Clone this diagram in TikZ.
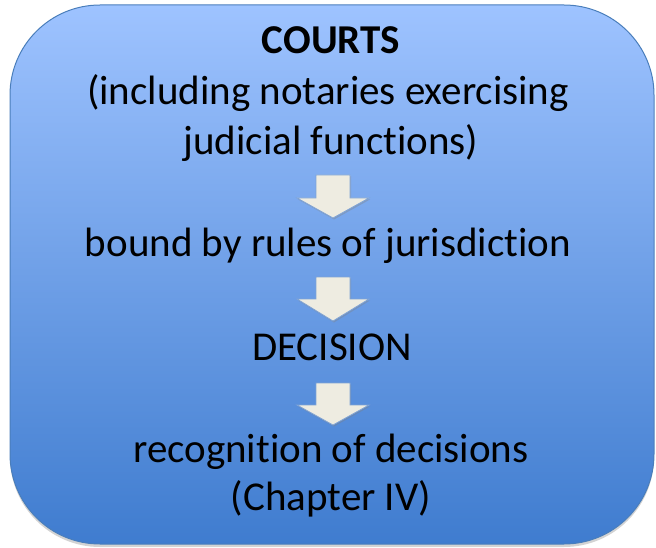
\documentclass[tikz,border=0pt]{standalone}
\usepackage{fontspec}
\setmainfont{Carlito}[Ligatures={NoCommon,NoRequired,NoContextual}]
\usetikzlibrary{shadows}
\definecolor{boxtop}{HTML}{9EC3FF}
\definecolor{boxbottom}{HTML}{3F7CCF}
\definecolor{boxline}{HTML}{4A7EBB}
\definecolor{arrowfill}{HTML}{EEECE1}
\definecolor{arrowline}{HTML}{7FA3D4}
\tikzset{
  txt/.style={anchor=base, inner sep=0pt, font=\fontsize{41}{50}\selectfont},
  downarrow/.style={draw=arrowline, line width=0.8pt, fill=arrowfill,
    drop shadow={shadow xshift=1pt, shadow yshift=-1.5pt, opacity=0.35}},
}
\begin{document}
\begin{tikzpicture}[x=1pt,y=-1pt]
        \useasboundingbox (0,0) rectangle (656,548);
        \draw[boxline, line width=1pt, rounded corners=90pt, top color=boxtop, bottom color=boxbottom,
          drop shadow={shadow xshift=0pt, shadow yshift=-3pt, opacity=0.35}] (10,5) rectangle (654,544);
        \node[txt, font=\fontsize{41}{50}\selectfont\bfseries] (courts) at (331,54) {COURTS};
        \node[txt] (incl) at (328,104.5) {(including notaries exercising};
        \node[txt] (judic) at (331,155) {judicial functions)};
        \node[txt] (bound) at (328,257) {bound by rules of jurisdiction};
        \node[txt] (decision) at (332,360) {DECISION};
        \node[txt] (recog) at (331,462) {recognition of decisions};
        \node[txt] (chapter) at (331,510) {(Chapter IV)};
        \draw[downarrow] (316,175) -- (350,175) -- (350,198) -- (369,198) -- (333,218) -- (297,198) -- (316,198) -- cycle;
        \draw[downarrow] (316,277) -- (350,277) -- (350,299) -- (369,299) -- (333,321) -- (297,299) -- (316,299) -- cycle;
        \draw[downarrow] (316,383) -- (350,383) -- (350,405) -- (369,405) -- (333,425) -- (297,405) -- (316,405) -- cycle;
    \end{tikzpicture}
\end{document}
